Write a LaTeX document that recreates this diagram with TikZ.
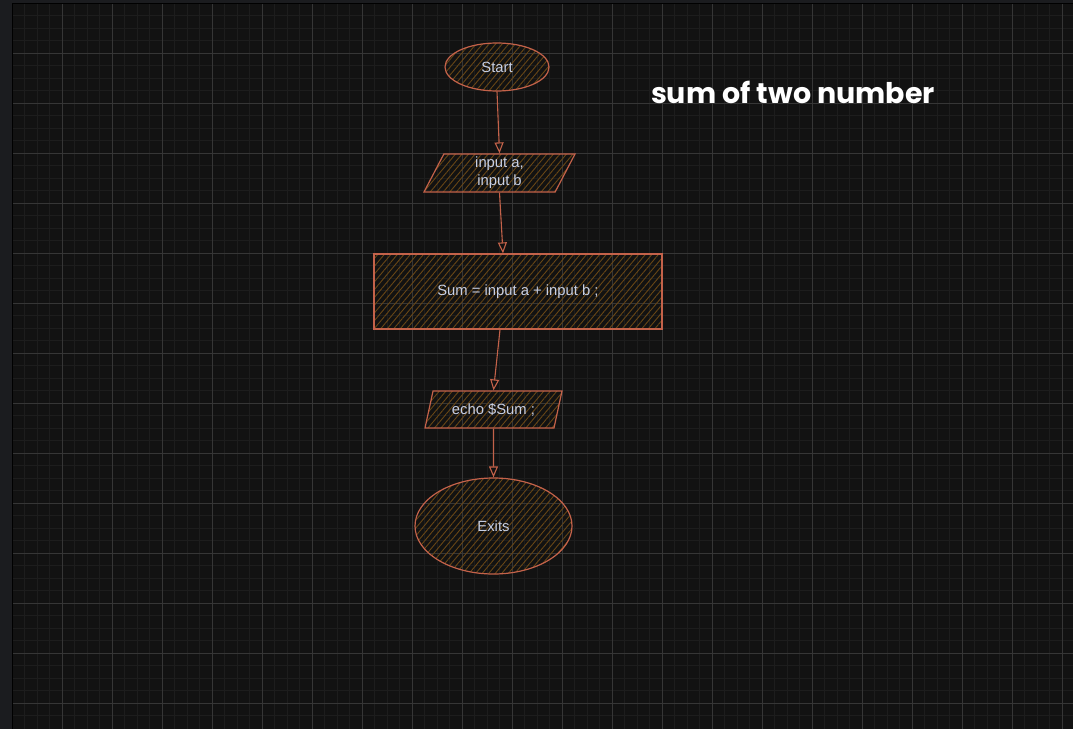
\documentclass[tikz,border=0pt]{standalone}
\usepackage{fontspec}
\setmainfont{Liberation Sans}
\newfontfamily\titlefont{Poppins}
\usepackage{tikz}
\usetikzlibrary{shapes.geometric,arrows.meta,positioning,patterns.meta,calc}
\tikzset{every node/.append style={align=center}}
\definecolor{pagecolor}{RGB}{27, 28, 31}
\definecolor{canvascolor}{RGB}{18, 18, 18}
\definecolor{minorgrid}{RGB}{29, 29, 29}
\definecolor{majorgrid}{RGB}{54, 54, 54}
\definecolor{strokecolor}{RGB}{196, 98, 74}
\definecolor{hatchcolor}{RGB}{104, 70, 22}
\definecolor{labelcolor}{RGB}{200, 208, 228}

\begin{document}
\begin{tikzpicture}[
    x=1pt, y=-1pt,
    flowbox/.style={draw=strokecolor, line width=1.2pt, inner sep=0pt, text=labelcolor,
        font=\fontsize{14.8}{18}\selectfont,
        pattern={Lines[angle=50, distance=5pt, line width=0.9pt]}, pattern color=hatchcolor},
    terminal/.style={flowbox, ellipse},
    io/.style={flowbox, trapezium, trapezium left angle=58, trapezium right angle=122,
        trapezium stretches body},
    process/.style={flowbox, rectangle},
    arrow/.style={-{Triangle[open, length=11pt, width=9pt]}, line width=1.1pt, strokecolor}
]
    \useasboundingbox (0, 0) rectangle (1073, 728);
    % Canvas and grid
    \fill[pagecolor] (-4, -4) rectangle (1077, 732);
    \filldraw[fill=canvascolor, draw=black, line width=1pt] (12.3, 3.3) rectangle (1080, 735);
    \foreach \x in {24.8, 37.3, ..., 1073} \draw[minorgrid, line width=1pt] (\x, 4) -- (\x, 732);
    \foreach \y in {15.8, 28.3, ..., 728} \draw[minorgrid, line width=1pt] (13, \y) -- (1077, \y);
    \foreach \x in {62.3, 112.3, ..., 1073} \draw[majorgrid, line width=0.8pt] (\x, 4) -- (\x, 732);
    \foreach \y in {53.3, 103.3, ..., 728} \draw[majorgrid, line width=0.8pt] (13, \y) -- (1077, \y);

    % Flowchart
    \node[terminal, minimum width=104pt, minimum height=48pt] (start) at (497, 67) {Start};
    \node[io, minimum width=151pt, minimum height=38pt] (inputs) at (499.5, 173) {input a,\\input b};
    \node[process, minimum width=288pt, minimum height=75pt] (sum) at (518, 291.5) {\raisebox{-2pt}{Sum = input a + input b ;}};
    \node[io, minimum width=137pt, minimum height=37pt] (output) at (493.5, 409.5) {echo \$Sum ;};
    \node[terminal, minimum width=157pt, minimum height=96pt] (exits) at (493.5, 526) {\raisebox{-2pt}{Exits}};

    % Arrows
    \draw[arrow] (start.south) -- (inputs.north);
    \draw[arrow] (inputs.south) -- ([xshift=-15pt]sum.north);
    \draw[arrow] ([xshift=-18pt]sum.south) -- (output.north);
    \draw[arrow] (output.south) -- (exits.north);

    % Title
    \node[text=white, font=\titlefont\bfseries\fontsize{28.5}{32}\selectfont] (title) at (793, 92) {sum of two number};

\end{tikzpicture}
\end{document}
